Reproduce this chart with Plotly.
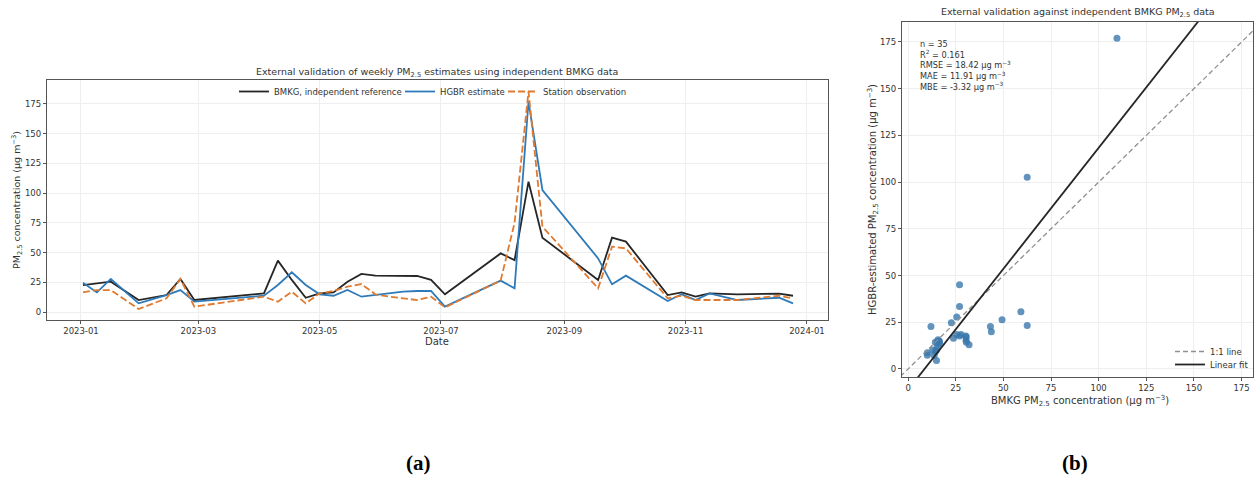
import plotly.graph_objects as go

W, H = 1254, 479

# ---------------- data ----------------
dates = ["2023-01-02", "2023-01-09", "2023-01-16", "2023-01-30", "2023-02-13", "2023-02-20",
         "2023-02-27", "2023-04-03", "2023-04-10", "2023-04-17", "2023-04-24", "2023-05-01",
         "2023-05-08", "2023-05-15", "2023-05-22", "2023-05-29", "2023-06-05", "2023-06-12",
         "2023-06-19", "2023-06-26", "2023-07-03", "2023-07-31", "2023-08-07", "2023-08-14",
         "2023-08-21", "2023-09-18", "2023-09-25", "2023-10-02", "2023-10-23", "2023-10-30",
         "2023-11-06", "2023-11-13", "2023-11-27", "2023-12-18", "2023-12-25"]

bmkg = [22.7, 23.8, 25.5, 10.1, 14.3, 27.8, 10.1, 15.7, 43.2, 27.0, 12.0, 15.7, 16.5, 25.5,
        32.0, 30.6, 30.4, 30.5, 30.3, 27.0, 14.9, 49.3, 43.7, 109.6, 62.5, 27.0, 62.5, 59.2,
        14.3, 16.5, 12.9, 15.7, 14.9, 15.4, 13.7]

hgbr = [24.7, 16.5, 27.8, 7.3, 14.3, 18.5, 8.7, 13.7, 22.7, 33.4, 22.7, 14.9, 13.7, 18.5,
        12.9, 14.3, 15.4, 17.1, 17.7, 17.7, 4.5, 26.4, 19.9, 177.0, 102.6, 45.1, 23.3, 30.6,
        9.3, 14.9, 10.1, 15.7, 10.1, 12.0, 7.3]

station = [16.5, 18.5, 18.5, 2.5, 11.5, 27.8, 4.5, 12.9, 8.7, 17.1, 7.3, 15.7, 17.7, 21.3,
           23.5, 14.9, 12.9, 11.5, 10.1, 12.9, 3.9, 26.4, 75.0, 185.3, 71.8, 19.9, 55.0, 53.5,
           11.5, 13.7, 10.1, 10.1, 10.1, 13.7, 11.5]

one_to_one = [-10, 200]
fit_slope = 1.295
fit_intercept = -11.16

stats_lines = ["n = 35", "R<sup>2</sup> = 0.161", "RMSE = 18.42 μg m<sup>−3</sup>",
               "MAE = 11.91 μg m<sup>−3</sup>", "MBE = -3.32 μg m<sup>−3</sup>"]

# ---------------- colours ----------------
C_BLACK = "#262626"
C_BLUE = "#2f7ab8"
C_SCAT = "#3a78ad"
C_ORANGE = "#e07a30"
FONT = "DejaVu Sans"
TXT = "#333333"

fig = go.Figure()

# time series (panel a)
fig.add_trace(go.Scatter(x=dates, y=bmkg, mode="lines", name="BMKG, independent reference",
                         line=dict(color=C_BLACK, width=1.8), xaxis="x", yaxis="y", legend="legend"))
fig.add_trace(go.Scatter(x=dates, y=hgbr, mode="lines", name="HGBR estimate",
                         line=dict(color=C_BLUE, width=1.8), xaxis="x", yaxis="y", legend="legend3"))
fig.add_trace(go.Scatter(x=dates, y=station, mode="lines", name="Station observation",
                         line=dict(color=C_ORANGE, width=1.8, dash="7px,3px"), xaxis="x", yaxis="y",
                         legend="legend4"))

# scatter (panel b)
fig.add_trace(go.Scatter(x=bmkg, y=hgbr, mode="markers", showlegend=False,
                         marker=dict(color=C_SCAT, size=7, opacity=0.8),
                         xaxis="x2", yaxis="y2"))
fig.add_trace(go.Scatter(x=one_to_one, y=one_to_one, mode="lines", name="1:1 line",
                         line=dict(color="#909090", width=1.3, dash="5px,3px"),
                         xaxis="x2", yaxis="y2", legend="legend2"))
fit_x = [one_to_one[0], one_to_one[1]]
fit_y = [fit_intercept + fit_slope * v for v in fit_x]
fig.add_trace(go.Scatter(x=fit_x, y=fit_y, mode="lines", name="Linear fit",
                         line=dict(color=C_BLACK, width=1.8),
                         xaxis="x2", yaxis="y2", legend="legend5"))


def px_x(p):
    return p / W


def px_y(p):
    return 1 - p / H


axis_common = dict(showline=True, linecolor="#555555", linewidth=1.2, mirror=True,
                   ticks="outside", ticklen=3, tickcolor="#555555",
                   showgrid=True, gridcolor="#eeeeee", gridwidth=0.8, zeroline=False,
                   tickfont=dict(family=FONT, size=8.5, color=TXT))


def leg(x_text, y_center):
    return dict(orientation="v", x=px_x(x_text - 40), y=px_y(y_center - 15),
                xanchor="left", yanchor="top",
                font=dict(family=FONT, size=8.5, color=TXT), bgcolor="rgba(0,0,0,0)",
                itemwidth=30)


fig.update_layout(
    width=W, height=H,
    margin=dict(l=0, r=0, t=0, b=0),
    paper_bgcolor="white", plot_bgcolor="white",
    font=dict(family=FONT, color=TXT),
    xaxis=dict(domain=[px_x(47), px_x(828)], range=["2022-12-14 22:00", "2024-01-11 14:00"],
               tickvals=["2023-01-01", "2023-03-01", "2023-05-01", "2023-07-01", "2023-09-01",
                         "2023-11-01", "2024-01-01"],
               tickformat="%Y-%m", anchor="y", **axis_common),
    yaxis=dict(domain=[px_y(320), px_y(80)], range=[-6.7, 195.1],
               tickvals=[0, 25, 50, 75, 100, 125, 150, 175], anchor="x", **axis_common),
    xaxis2=dict(domain=[px_x(902), px_x(1253)], range=[-3.2, 181],
                tickvals=[0, 25, 50, 75, 100, 125, 150, 175], anchor="y2", **axis_common),
    yaxis2=dict(domain=[px_y(377), px_y(22)], range=[-4.3, 185.7],
                tickvals=[0, 25, 50, 75, 100, 125, 150, 175], anchor="x2", **axis_common),
    legend=leg(274, 92),
    legend3=leg(440, 92),
    legend4=leg(543, 92),
    legend2=leg(1210, 352),
    legend5=leg(1210, 365),
)

ann = []


def text(x, y, t, size, **kw):
    d = dict(x=px_x(x), y=px_y(y), xref="paper", yref="paper", showarrow=False,
             xanchor="center", yanchor="middle", text=t,
             font=dict(family=kw.pop("family", FONT), size=size, color=kw.pop("color", TXT)))
    d.update(kw)
    ann.append(d)


# titles
text(437, 72, "External validation of weekly PM<sub>2.5</sub> estimates using independent BMKG data", 9.5)
text(1078, 12, "External validation against independent BMKG PM<sub>2.5</sub> data", 9.5)
# axis titles
text(437, 341, "Date", 10)
text(17, 200, "PM<sub>2.5</sub> concentration (μg m<sup>−3</sup>)", 9.5, textangle=-90)
text(1080, 401, "BMKG PM<sub>2.5</sub> concentration (μg m<sup>−3</sup>)", 10)
text(873, 200, "HGBR-estimated PM<sub>2.5</sub> concentration (μg m<sup>−3</sup>)", 10, textangle=-90)
# stats block
ann.append(dict(x=px_x(918), y=px_y(37), xref="paper", yref="paper", showarrow=False,
                xanchor="left", yanchor="top", align="left",
                text="<br>".join(stats_lines),
                font=dict(family=FONT, size=8.2, color=TXT)))
# panel labels
text(418, 463, "<b>(a)</b>", 21, family="Liberation Serif", color="black")
text(1075, 463, "<b>(b)</b>", 21, family="Liberation Serif", color="black")

fig.update_layout(annotations=ann)

fig.write_html("out.html")
